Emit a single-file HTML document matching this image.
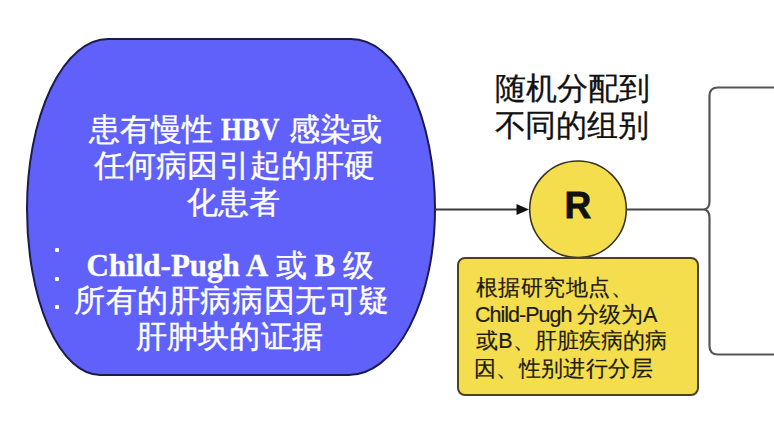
<!DOCTYPE html>
<html><head><meta charset="utf-8">
<style>
html,body{margin:0;padding:0;width:774px;height:436px;overflow:hidden;background:#fff;}
body{position:relative;font-family:"Liberation Sans",sans-serif;}
svg{position:absolute;left:0;top:0;}
.tx{position:absolute;white-space:nowrap;}
.bl{color:#fff;font-family:"Liberation Serif",serif;font-size:31px;line-height:36px;-webkit-text-stroke:0.4px #fff;}
.bl b{font-weight:bold;}
.hbv{display:inline-block;width:60px;text-align:left;letter-spacing:0;}
.hbv b{display:inline-block;transform:scaleX(0.87);transform-origin:left center;}
.cp{letter-spacing:0px;}
.title{color:#111;font-size:30.5px;line-height:37px;-webkit-text-stroke:0.3px #111;}
.rr{font-size:37px;font-weight:bold;color:#111;line-height:40px;-webkit-text-stroke:0.8px #111;}
.note{color:#1c1a10;font-size:21.5px;line-height:27px;-webkit-text-stroke:0.2px #1c1a10;}
.cpn{letter-spacing:-1.0px;}
.dot{position:absolute;width:4px;height:4px;background:#fff;border-radius:1px;}
</style></head>
<body>
<svg width="774" height="436" viewBox="0 0 774 436">
  <path d="M108,39 L351,39 A84,170 0 0 1 435,209 A86.5,166 0 0 1 348.5,375 L100,375 A73,166 0 0 1 27,209 A81,170 0 0 1 108,39 Z" fill="#6060fb" stroke="#1c1c4a" stroke-width="2"/>
  <line x1="435" y1="209.5" x2="518" y2="209.5" stroke="#3a3a3a" stroke-width="2.2"/>
  <path d="M516.5,204 L529,209.5 L516.5,215 Z" fill="#111"/>
  <circle cx="578" cy="209.3" r="48.3" fill="#f5de4e" stroke="#3a3320" stroke-width="1.6"/>
  <line x1="626" y1="209.5" x2="703" y2="209.5" stroke="#444" stroke-width="2.2"/>
  <path d="M774,87.5 L718,87.5 Q709.5,87.5 709.5,96 L709.5,201.5 Q709.5,209.5 703,209.5 Q709.5,209.5 709.5,217.5 L709.5,346 Q709.5,354.5 718,354.5 L774,354.5" fill="none" stroke="#555" stroke-width="2.2"/>
  <rect x="458" y="258" width="240" height="137" rx="7" ry="7" fill="#f5de4e" stroke="#4d4220" stroke-width="2"/>
</svg>
<div class="dot" style="left:55px;top:248px"></div>
<div class="dot" style="left:55px;top:277px"></div>
<div class="dot" style="left:55px;top:305px"></div>
<div id="L1" class="tx bl" style="left:88.50px;top:111.75px;letter-spacing:0.09px;">患有慢性 <span class="hbv"><b>HBV</b></span> 感染或</div>
<div id="L2" class="tx bl" style="left:93.50px;top:148.25px;letter-spacing:0.30px;">任何病因引起的肝硬</div>
<div id="L3" class="tx bl" style="left:187.00px;top:185.00px;letter-spacing:-0.00px;">化患者</div>
<div id="L5" class="tx bl" style="left:86.50px;top:248.00px;letter-spacing:-0.12px;"><b class="cp">Child-Pugh A</b> 或 <b>B</b> 级</div>
<div id="L6" class="tx bl" style="left:74.00px;top:283.25px;letter-spacing:0.59px;">所有的肝病病因无可疑</div>
<div id="L7" class="tx bl" style="left:135.75px;top:319.25px;letter-spacing:0.24px;">肝肿块的证据</div>
<div id="T1" class="tx title" style="left:495.00px;top:69.50px;letter-spacing:0.00px;">随机分配到</div>
<div id="T2" class="tx title" style="left:494.50px;top:106.50px;letter-spacing:-0.20px;">不同的组别</div>
<div id="R" class="tx rr" style="left:564.50px;top:186.00px;">R</div>
<div id="N1" class="tx note" style="left:475.50px;top:274.75px;letter-spacing:0.53px;">根据研究地点、</div>
<div id="N2" class="tx note" style="left:475.00px;top:301.75px;letter-spacing:-0.11px;"><span class="cpn">Child-Pugh</span> 分级为A</div>
<div id="N3" class="tx note" style="left:476.25px;top:327.50px;letter-spacing:0.05px;">或B、肝脏疾病的病</div>
<div id="N4" class="tx note" style="left:473.75px;top:355.75px;letter-spacing:0.40px;">因、性别进行分层</div>
</body></html>
